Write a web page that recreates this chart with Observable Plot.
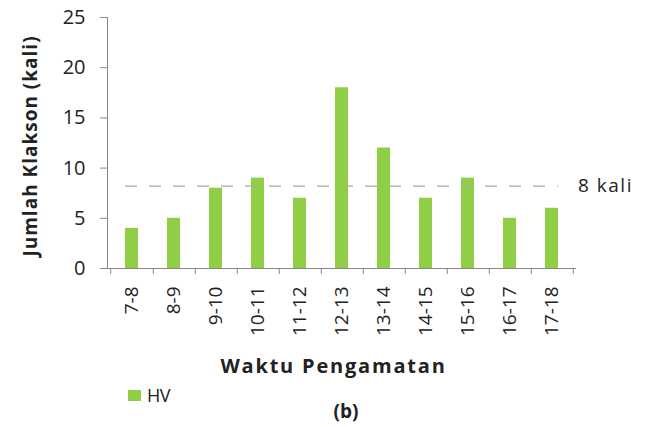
<!DOCTYPE html>
<html>
<head>
<meta charset="utf-8">
<script src="https://cdn.jsdelivr.net/npm/d3@7"></script>
<script src="https://cdn.jsdelivr.net/npm/@observablehq/plot@0.6"></script>
<style>
  html, body { margin: 0; padding: 0; background: #fff; }
  #wrap { position: relative; width: 647px; height: 427px; font-family: "Open Sans", sans-serif; color: #222; }
  #legend { position: absolute; left: 128px; top: 383px; font-size: 18px; display: flex; align-items: center; letter-spacing: -0.5px; }
  #legend .sw { width: 13px; height: 11px; background: #8fce45; margin-right: 6px; }
  #cap { position: absolute; left: 0; width: 692px; top: 398px; text-align: center; font-weight: bold; font-size: 19px; }
</style>
</head>
<body>
<div id="wrap">
  <div id="chart"></div>
  <div id="legend"><div class="sw"></div><span>HV</span></div>
  <div id="cap">(b)</div>
</div>
<script>
const categories = ["7-8","8-9","9-10","10-11","11-12","12-13","13-14","14-15","15-16","16-17","17-18"];
const values = [4, 5, 8, 9, 7, 18, 12, 7, 9, 5, 6];
const yTicks = [0, 5, 10, 15, 20, 25];
const refValue = 8.2;
const refLabel = "8 kali";
const seriesName = "HV";
const xTitle = "Waktu Pengamatan";
const yTitle = "Jumlah Klakson (kali)";

const data = categories.map((c, i) => ({cat: c, val: values[i]}));
const firstCat = categories[0];
const lastCat = categories[categories.length - 1];

const W = 647, H = 427;
const mL = 107, mR = 72, mT = 17, mB = 159;
const step = (W - mL - mR) / categories.length;
const green = "#8fce45";

const chart = Plot.plot({
  width: W,
  height: H,
  marginLeft: mL,
  marginRight: mR,
  marginTop: mT,
  marginBottom: mB,
  style: {fontFamily: "'Open Sans', sans-serif", fontSize: "18px", color: "#222", background: "#fff"},
  x: {domain: categories, paddingInner: 0.7, paddingOuter: 0.35},
  y: {domain: [0, 25]},
  marks: [
    Plot.barY(data, {x: "cat", y: "val", fill: green}),
    Plot.ruleY([refValue], {x1: () => firstCat, x2: () => lastCat, stroke: "#9fb38f", strokeWidth: 1.3, strokeDasharray: "12,12"}),
    Plot.text([refLabel], {x: () => lastCat, y: () => refValue, text: d => d, dx: 26, textAnchor: "start", fontSize: 19, fill: "#222"}),
    Plot.frame({anchor: "left", stroke: "#888"}),
    Plot.frame({anchor: "bottom", stroke: "#888"}),
    Plot.axisY({ticks: yTicks, tickSize: 7, tickPadding: 15, stroke: "#888", fontSize: 20, label: null}),
    Plot.axisX({tickSize: 6, dx: step / 2, text: null, stroke: "#888", label: null}),
    Plot.axisX({ticks: [firstCat], tickSize: 6, dx: -step / 2, text: null, stroke: "#888", label: null}),
    Plot.axisX({tickSize: 0, tickPadding: 18, tickRotate: -90, fontSize: 19, label: null}),
    Plot.text([xTitle], {frameAnchor: "bottom", dx: -8, dy: 104, textAnchor: "middle", text: d => d, fontWeight: "bold", fontSize: 20, fill: "#222"}),
    Plot.text([yTitle], {frameAnchor: "left", dx: -77, dy: 3, rotate: -90, textAnchor: "middle", text: d => d, fontWeight: "bold", fontSize: 19, fill: "#222"})
  ]
});
chart.querySelectorAll("text").forEach(t => {
  if (t.textContent === xTitle) t.setAttribute("letter-spacing", "1.8px");
  if (t.textContent === yTitle) t.setAttribute("letter-spacing", "1px");
  if (t.textContent === refLabel) t.setAttribute("letter-spacing", "1.5px");
});
document.getElementById("chart").appendChild(chart);
</script>
</body>
</html>
